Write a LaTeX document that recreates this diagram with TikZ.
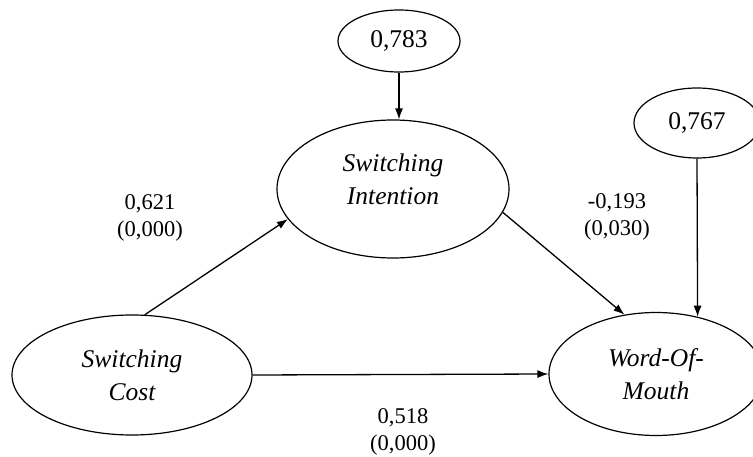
\documentclass[tikz,border=0pt]{standalone}
\usepackage{fontspec}
\setmainfont{Liberation Serif}
\usetikzlibrary{shapes.geometric,arrows.meta}

\tikzset{
  latent/.style={ellipse, draw, line width=1.2pt, inner sep=0pt, align=center,
    font=\fontsize{25.5}{33}\selectfont\itshape},
  resid/.style={ellipse, draw, line width=1.2pt, inner sep=0pt,
    font=\fontsize{25.5}{30}\selectfont},
  coef/.style={align=center, font=\fontsize{22.5}{27}\selectfont},
  effect/.style={->, line width=1.3pt},
  >={Latex[length=11pt,width=8pt]}
}

\begin{document}
\begin{tikzpicture}[x=1pt, y=-1pt]
  \useasboundingbox (0,0) rectangle (753,457);

  % constructs
  \node[latent, minimum width=240pt, minimum height=120pt] (sc) at (132,375) {Switching\\Cost};
  \node[latent, minimum width=232pt, minimum height=138pt, text depth=20pt] (si) at (393,189) {Switching\\Intention};
  \node[latent, minimum width=214pt, minimum height=123pt] (wom) at (656,374) {Word-Of-\\Mouth};

  % residuals
  \node[resid, minimum width=122pt, minimum height=62pt] (r1) at (399,41) {0,783};
  \node[resid, minimum width=126pt, minimum height=70pt] (r2) at (697,123) {0,767};

  % paths
  \draw[effect] (sc.78) -- (si.196);
  \draw[effect] (si.-12) -- (wom.118);
  \draw[effect] (sc.east) -- (wom.west);
  \draw[effect] (r1.south) -- (r1.south |- si.north);
  \draw[effect] (r2.south) -- (wom.54);

  % coefficients
  \node[coef] (l1) at (150,218) {0,621\\(0,000)};
  \node[coef] (l2) at (617,217) {-0,193\\(0,030)};
  \node[coef] (l3) at (403,432) {0,518\\(0,000)};
\end{tikzpicture}
\end{document}
